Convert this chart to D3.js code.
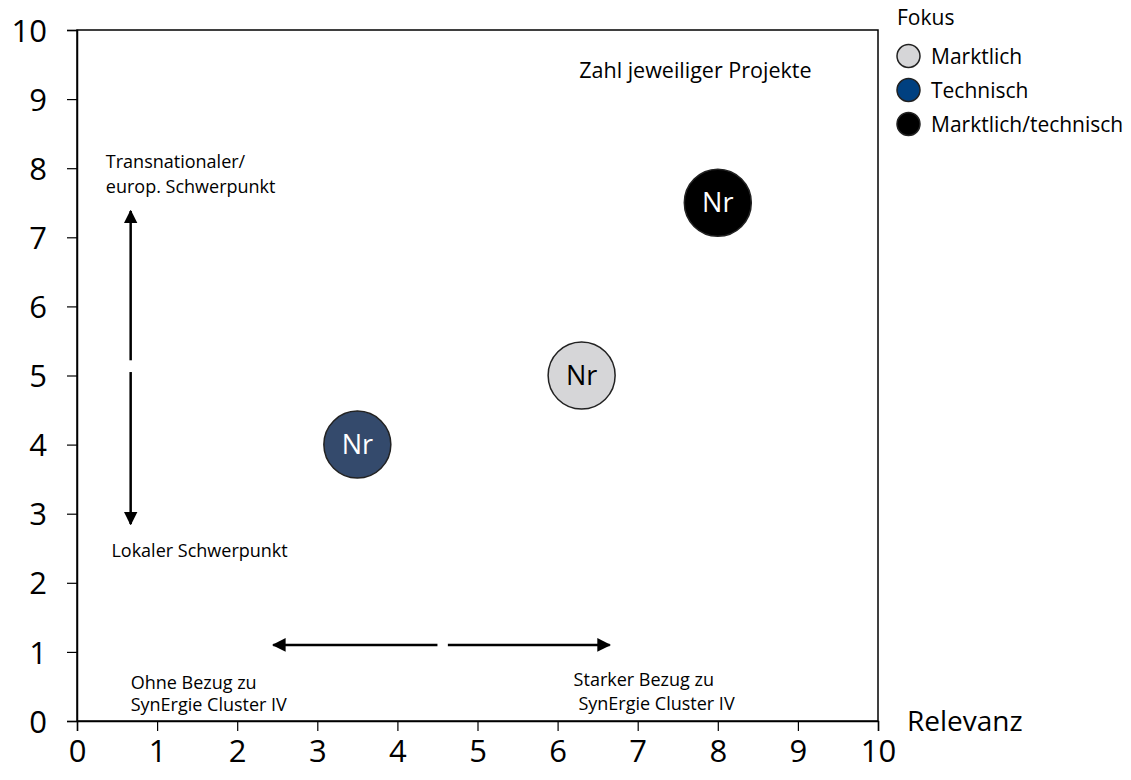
<!DOCTYPE html>
<html lang="de">
<head>
<meta charset="utf-8">
<script src="https://d3js.org/d3.v7.min.js"></script>
<style>
  body { margin: 0; background: #fff; }
  text { font-family: "Open Sans", "Noto Sans", sans-serif; fill: #000; }
  .note { font-size: 18px; }
</style>
</head>
<body>
<div id="chart"></div>
<script>
// data
var categories = ["Marktlich", "Technisch", "Marktlich/technisch"];
var colors = ["#d6d6d8", "#344a6c", "#000000"];
var legendColors = ["#d6d6d8", "#004080", "#000000"];
var xValues = [6.3, 3.5, 8];
var yValues = [5, 4, 7.5];
var labels = ["Nr", "Nr", "Nr"];
var tickValues = [0, 1, 2, 3, 4, 5, 6, 7, 8, 9, 10];

var w = 1131, h = 780;
var margin = {left: 77, right: 253, top: 30, bottom: 59};

var svg = d3.select("#chart").append("svg")
  .attr("width", w)
  .attr("height", h);

var x = d3.scaleLinear().domain([0, 10]).range([margin.left, w - margin.right]);
var y = d3.scaleLinear().domain([0, 10]).range([h - margin.bottom, margin.top]);

// frame
svg.append("rect")
  .attr("x", x(0)).attr("y", y(10))
  .attr("width", x(10) - x(0)).attr("height", y(0) - y(10))
  .attr("fill", "none").attr("stroke", "#000").attr("stroke-width", 1.5);

var xAxis = svg.append("g")
  .attr("transform", "translate(0," + y(0) + ")")
  .call(d3.axisBottom(x).tickValues(tickValues).tickSize(10).tickPadding(9));
var yAxis = svg.append("g")
  .attr("transform", "translate(" + x(0) + ",0)")
  .call(d3.axisLeft(y).tickValues(tickValues).tickSize(10).tickPadding(20));

[xAxis, yAxis].forEach(function(a) {
  a.select(".domain").attr("stroke-width", 1.5);
  a.selectAll(".tick line").attr("stroke-width", 1.2);
  a.selectAll(".tick text").style("font-size", "31px").attr("font-family", "Open Sans, sans-serif");
});
yAxis.selectAll(".tick text").attr("dy", "0.36em");

svg.append("text")
  .attr("x", x(10) + 29).attr("y", y(0) + 10)
  .style("font-size", "28px")
  .text("Relevanz");

// arrow marker
var defs = svg.append("defs");
defs.append("marker")
  .attr("id", "arr")
  .attr("viewBox", "0 0 10 10")
  .attr("refX", 9).attr("refY", 5)
  .attr("markerWidth", 5.5).attr("markerHeight", 5.5)
  .attr("orient", "auto-start-reverse")
  .append("path").attr("d", "M0,0 L10,5 L0,10 Z").attr("fill", "#000");

function arrow(x1, y1, x2, y2) {
  svg.append("line")
    .attr("x1", x(x1)).attr("y1", y(y1))
    .attr("x2", x(x2)).attr("y2", y(y2))
    .attr("stroke", "#000").attr("stroke-width", 2.5)
    .attr("marker-end", "url(#arr)");
}
// vertical arrows
arrow(0.67, 5.22, 0.67, 7.38);
arrow(0.67, 5.05, 0.67, 2.85);
// horizontal arrows
arrow(4.5, 1.1, 2.45, 1.1);
arrow(4.63, 1.1, 6.65, 1.1);

function note(xv, yv, text) {
  svg.append("text").attr("class", "note")
    .attr("x", x(xv)).attr("y", y(yv)).text(text);
}
note(0.36, 8.0, "Transnationaler/");
note(0.36, 7.64, "europ. Schwerpunkt");
note(0.43, 2.37, "Lokaler Schwerpunkt");
note(0.67, 0.47, "Ohne Bezug zu");
note(0.67, 0.14, "SynErgie Cluster IV");
note(6.2, 0.5, "Starker Bezug zu");
note(6.26, 0.16, "SynErgie Cluster IV");

svg.append("text")
  .attr("x", x(6.27)).attr("y", y(9.31))
  .style("font-size", "21.5px")
  .text("Zahl jeweiliger Projekte");

// bubbles
var bubbles = svg.selectAll("g.bubble")
  .data(categories)
  .enter().append("g").attr("class", "bubble");

bubbles.append("circle")
  .attr("cx", function(d, i) { return x(xValues[i]); })
  .attr("cy", function(d, i) { return y(yValues[i]); })
  .attr("r", 33.5)
  .attr("fill", function(d, i) { return colors[i]; })
  .attr("stroke", "#222").attr("stroke-width", 1.5);

bubbles.append("text")
  .attr("x", function(d, i) { return x(xValues[i]); })
  .attr("y", function(d, i) { return y(yValues[i]); })
  .attr("dy", "0.36em")
  .attr("text-anchor", "middle")
  .style("font-size", "27px")
  .style("fill", function(d, i) { return i === 0 ? "#000" : "#fff"; })
  .text(function(d, i) { return labels[i]; });

// legend
var legend = svg.append("g").attr("transform", "translate(897,0)");
legend.append("text").attr("x", 0).attr("y", 25).style("font-size", "21px").text("Fokus");
var items = legend.selectAll("g.item").data(categories).enter().append("g").attr("class", "item")
  .attr("transform", function(d, i) { return "translate(0," + (56 + i * 34) + ")"; });
items.append("circle").attr("cx", 11.5).attr("cy", 0).attr("r", 11.5)
  .attr("fill", function(d, i) { return legendColors[i]; })
  .attr("stroke", "#222").attr("stroke-width", 1.5);
items.append("text").attr("x", 34).attr("y", 0).attr("dy", "0.36em")
  .style("font-size", "21px").text(function(d) { return d; });
</script>
</body>
</html>
